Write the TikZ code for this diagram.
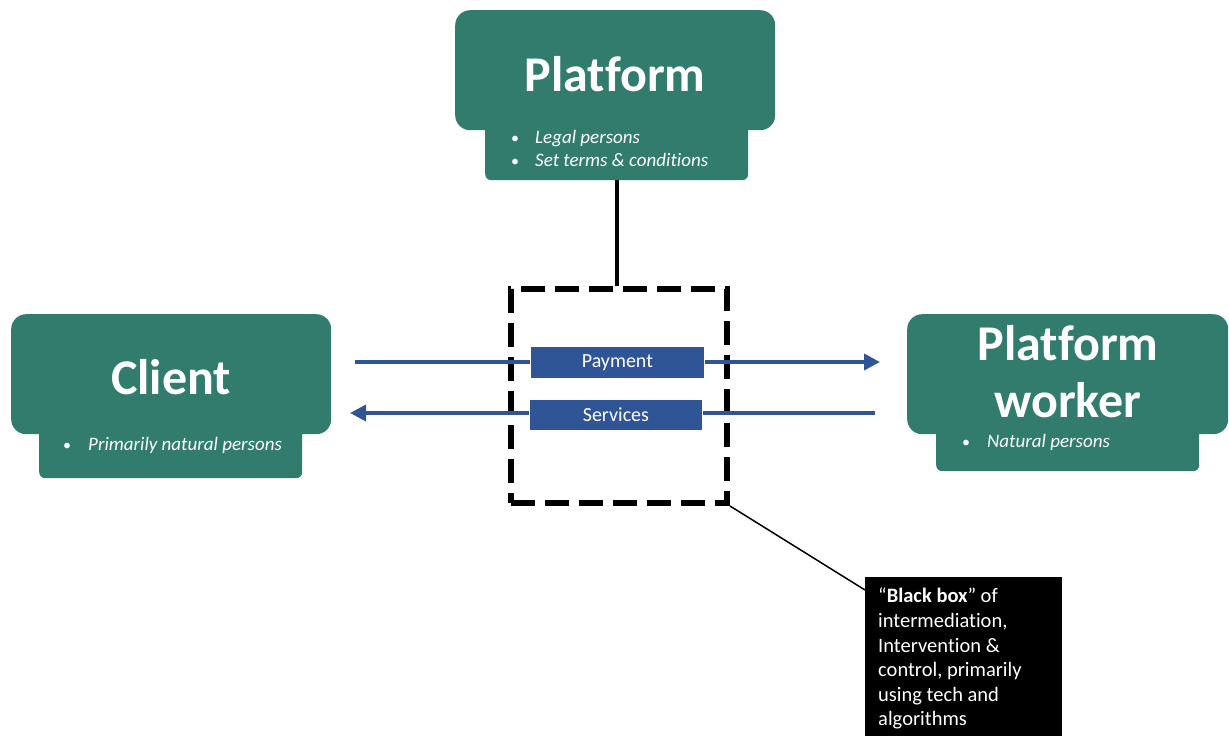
\documentclass[tikz,border=0pt]{standalone}
\usepackage{fontspec}
\setmainfont{Carlito}[Ligatures={NoCommon}]
\usetikzlibrary{arrows.meta}
\definecolor{boxgreen}{RGB}{50,124,110}
\definecolor{barblue}{RGB}{47,85,151}
\tikzset{
  headbox/.style={fill=boxgreen, rounded corners=15pt, draw=none, inner sep=0pt, anchor=north west},
  subbox/.style={fill=boxgreen, rounded corners=6pt, draw=none, inner sep=0pt, anchor=north west},
  title/.style={text=white, font=\fontsize{50}{58}\selectfont\bfseries, align=center, inner sep=0pt},
  bullettext/.style={text=white, font=\fontsize{19}{23}\selectfont\itshape, anchor=base west, inner sep=0pt},
  bulletdot/.style={text=white, font=\fontsize{16}{23}\selectfont, anchor=base, inner sep=0pt},
  bar/.style={fill=barblue, draw=white, line width=0.8pt, inner sep=0pt, anchor=north west, text=white, font=\fontsize{20}{22}\selectfont},
  flow/.style={draw=barblue, line width=3.5pt, -{Triangle[length=16pt,width=16pt]}},
}
\begin{document}
\begin{tikzpicture}[x=1pt,y=-1pt]
\useasboundingbox (0,0) rectangle (1229,736);
% Platform
\node[subbox, minimum width=263pt, minimum height=70pt] (psub) at (485,110) {};
\node[headbox, minimum width=320pt, minimum height=120pt] (phead) at (455,10) {};
\node[title] (ptitle) at (615,74) {Platform};
\node[bulletdot] (pb1) at (515,143) {•};
\node[bullettext] (pt1) at (535,143) {Legal persons};
\node[bulletdot] (pb2) at (515,166) {•};
\node[bullettext] (pt2) at (535,166) {Set terms \& conditions};
% Client
\node[subbox, minimum width=263pt, minimum height=64pt] (csub) at (39,414) {};
\node[headbox, minimum width=320pt, minimum height=120pt] (chead) at (11,314) {};
\node[title] (ctitle) at (171,377) {Client};
\node[bulletdot] (cb1) at (67,450) {•};
\node[bullettext] (ct1) at (88,450) {Primarily natural persons};
% Platform worker
\node[subbox, minimum width=263pt, minimum height=57pt] (wsub) at (936,414) {};
\node[headbox, minimum width=321pt, minimum height=120pt] (whead) at (907,314) {};
\node[title] (wtitle1) at (1068,343) {Platform};
\node[title] (wtitle2) at (1068,400) {worker};
\node[bulletdot] (wb1) at (966,447) {•};
\node[bullettext] (wt1) at (987,447) {Natural persons};
% Black box (dashed)
\node[draw=black, line width=6pt, dash pattern=on 24pt off 10pt, minimum width=216pt, minimum height=214pt, inner sep=0pt, anchor=north west] (bb) at (508,286) {};
\draw[line width=4pt] (psub.south) -- (psub.south |- bb.north);
% flows
\coordinate (payL) at (355,362);
\coordinate (payR) at (880,362);
\coordinate (serR) at (875,413);
\coordinate (serL) at (350,413);
\draw[flow] (payL) -- (payR);
\draw[flow] (serR) -- (serL);
\node[bar, minimum width=174pt, minimum height=32pt] (pay) at (530,346) {Payment};
\node[bar, minimum width=173pt, minimum height=31pt] (ser) at (529,399) {Services};
% note
\node[fill=black, text=white, anchor=north west, minimum width=197pt, minimum height=160pt, inner sep=0pt] (note) at (865,577) {};
\node[text=white, anchor=north west, inner sep=0pt, align=left, font=\fontsize{20.5}{24.6}\selectfont] (notetext) at (878,588) {“\textbf{Black box}” of\\intermediation,\\Intervention \&\\control, primarily\\using tech and\\algorithms};
\draw[line width=1.5pt] (bb.south east) -- (note.west |- 0,590);
\end{tikzpicture}
\end{document}
